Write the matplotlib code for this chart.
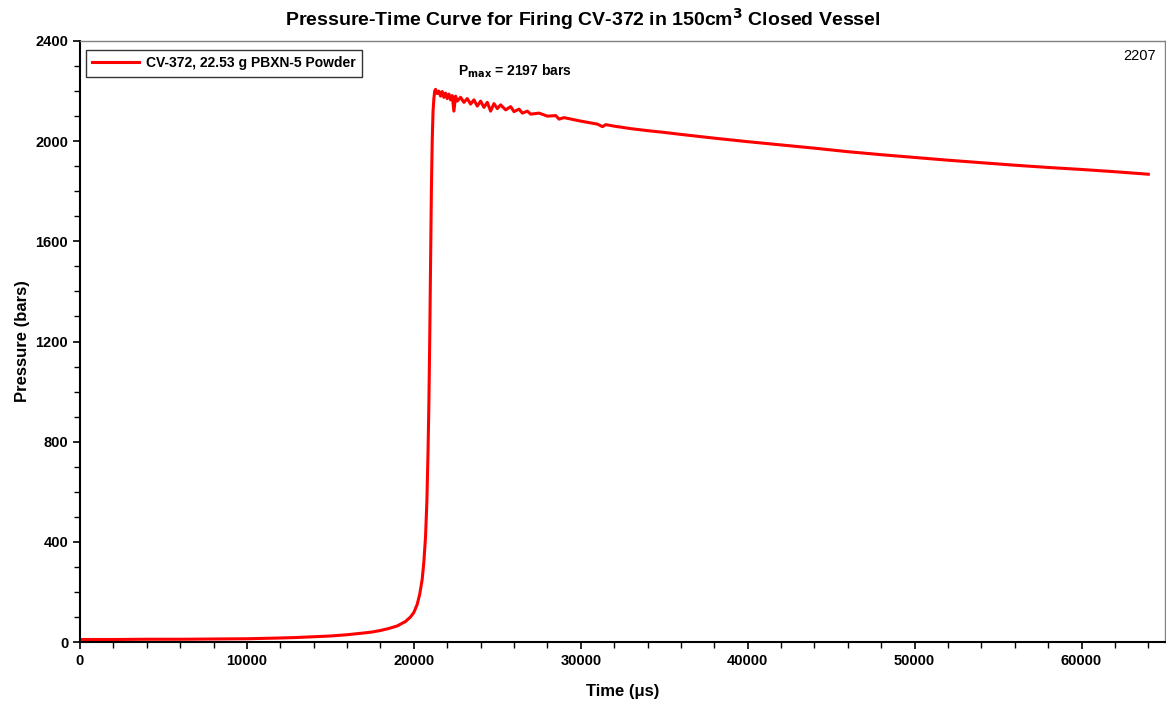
import matplotlib
matplotlib.use("Agg")
import matplotlib.pyplot as plt
from matplotlib.ticker import MultipleLocator

plt.rcParams['font.family'] = ['Liberation Sans', 'DejaVu Sans']

# data
time_us = [0, 2000, 4000, 6000, 8000, 10000, 12000, 13000, 14000, 15000,
           16000, 17000, 17500, 18000, 18500, 19000, 19500, 19800, 20000, 20200,
           20350, 20500, 20600, 20700, 20780, 20850, 20900, 20950, 21000, 21050,
           21100, 21150, 21200, 21250, 21300, 21400, 21500, 21600, 21700, 21800,
           21900, 22000, 22100, 22200, 22300, 22400, 22500, 22600, 22800, 23000,
           23200, 23400, 23600, 23800, 24000, 24200, 24400, 24600, 24800, 25000,
           25200, 25500, 25800, 26000, 26300, 26500, 26800, 27000, 27500, 28000,
           28500, 28700, 29000, 30000, 31000, 31300, 31500, 32000, 33000, 34000,
           35000, 36000, 38000, 40000, 42000, 44000, 46000, 48000, 50000, 52000,
           54000, 56000, 58000, 60000, 62000, 64000]
pressure_bar = [10, 10, 11, 11, 12, 13, 16, 18, 21, 24,
                29, 36, 40, 46, 54, 64, 82, 100, 118, 150,
                190, 250, 320, 420, 560, 760, 950, 1200, 1500, 1800,
                2000, 2120, 2170, 2200, 2207, 2190, 2200, 2180, 2198, 2175,
                2192, 2170, 2188, 2165, 2182, 2120, 2180, 2160, 2175, 2155,
                2170, 2148, 2165, 2140, 2160, 2135, 2155, 2120, 2150, 2130,
                2145, 2125, 2138, 2118, 2128, 2112, 2120, 2108, 2112, 2100,
                2102, 2088, 2094, 2080, 2068, 2058, 2066, 2060, 2050, 2042,
                2035, 2027, 2012, 1998, 1985, 1972, 1958, 1946, 1935, 1924,
                1914, 1904, 1895, 1887, 1878, 1868]

fig = plt.figure(figsize=(11.66, 7.10), dpi=100)
ax = fig.add_axes([80 / 1166, 68 / 710, 1085 / 1166, 601 / 710])

ax.plot(time_us, pressure_bar, color='#ff0000', lw=2.2,
        label='CV-372, 22.53 g PBXN-5 Powder')

ax.set_xlim(0, 65000)
ax.set_ylim(0, 2400)
ax.xaxis.set_major_locator(MultipleLocator(10000))
ax.xaxis.set_minor_locator(MultipleLocator(2000))
ax.yaxis.set_major_locator(MultipleLocator(400))
ax.yaxis.set_minor_locator(MultipleLocator(100))
ax.tick_params(which='major', direction='out', length=5, width=1.2, labelsize=10.5)
ax.tick_params(which='minor', direction='out', length=4, width=1)
for lbl in ax.get_xticklabels() + ax.get_yticklabels():
    lbl.set_fontweight('bold')

for s in ['left', 'bottom']:
    ax.spines[s].set_linewidth(1.5)
    ax.spines[s].set_color('black')
for s in ['top', 'right']:
    ax.spines[s].set_linewidth(1)
    ax.spines[s].set_color('#808080')

ax.set_xlabel('Time (μs)', fontsize=12, fontweight='bold', labelpad=12)
ax.set_ylabel('Pressure (bars)', fontsize=12, fontweight='bold', labelpad=4)
fig.suptitle('Pressure-Time Curve for Firing CV-372 in 150cm$^\\mathbf{3}$ Closed Vessel',
             fontsize=14, fontweight='bold', y=0.992)

leg = ax.legend(loc='upper left', bbox_to_anchor=(0.0055, 0.985), borderaxespad=0,
                prop={'weight': 'bold', 'size': 10}, fancybox=False,
                edgecolor='black', handlelength=3.4, borderpad=0.45,
                handletextpad=0.5)
leg.get_frame().set_linewidth(1)

ax.text(22640, 2280, 'P$_{\\mathbf{max}}$ = 2197 bars', fontsize=10,
        fontweight='bold', ha='left', va='center')
ax.text(0.992, 0.987, '2207', transform=ax.transAxes, fontsize=10.5,
        ha='right', va='top')

fig.savefig('out.png', dpi=100)
